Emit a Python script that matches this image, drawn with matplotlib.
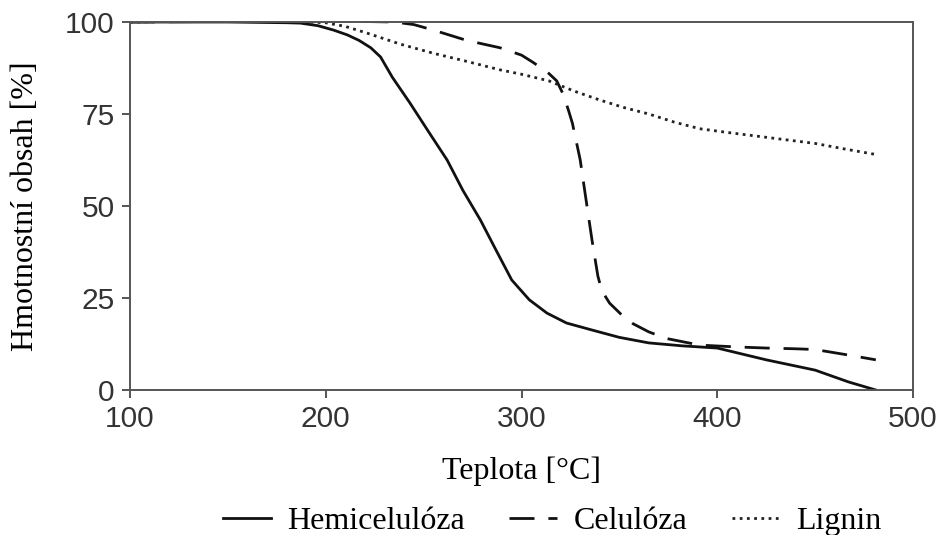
import matplotlib
matplotlib.use("Agg")
import matplotlib.pyplot as plt

# Data
hemi_x = [100, 150, 180, 187, 196, 204, 211, 217, 223, 228, 234, 243, 253, 262, 270, 279, 287, 295, 304, 313, 323, 336, 350, 365, 382, 400, 425, 450, 467, 481]
hemi_y = [100, 100, 99.8, 99.7, 99, 97.8, 96.5, 95, 93, 90.5, 85, 78, 69.8, 62.5, 54.3, 46.2, 38, 29.9, 24.5, 20.9, 18.2, 16.3, 14.3, 12.8, 12, 11.4, 8.2, 5.4, 2.2, 0]

cel_x = [100, 200, 235, 245, 255, 272, 289, 300, 306, 314, 318, 321, 324, 326, 328, 330, 333, 336, 339, 341, 345, 351, 357, 365, 374, 391, 410, 425, 440, 450, 467, 481]
cel_y = [100, 100.3, 100, 99.3, 97.8, 95, 93, 91, 89, 86, 84, 80.7, 76, 72.5, 67.5, 62.5, 51.6, 40.8, 31, 27, 23.6, 20.5, 18, 15.8, 14, 12.2, 11.7, 11.4, 11.2, 11, 9.5, 8.2]

lig_x = [100, 150, 180, 200, 210, 221, 238, 255, 272, 289, 300, 314, 327, 340, 352, 365, 378, 391, 405, 420, 435, 450, 465, 481]
lig_y = [100, 100.3, 100.2, 99.8, 98.8, 97, 94, 91.5, 89.3, 87, 85.8, 84, 81.2, 78.8, 76.8, 75, 72.8, 71, 70, 69, 68, 67, 65.5, 64]

labels = ["Hemicelulóza", "Celulóza", "Lignin"]
xticks = [100, 200, 300, 400, 500]
yticks = [0, 25, 50, 75, 100]

fig = plt.figure(figsize=(9.41, 5.35), dpi=100)
ax = fig.add_axes([130/941, 1-390/535, (913-130)/941, (390-22)/535])

lw = 2.0
h1, = ax.plot(hemi_x, hemi_y, color="#111111", lw=lw, ls="-")
h2, = ax.plot(cel_x, cel_y, color="#111111", lw=lw, ls=(0, (9, 5)))
h3, = ax.plot(lig_x, lig_y, color="#222222", lw=lw, ls=(0, (1, 1.6)))

ax.set_xlim(100, 500)
ax.set_ylim(0, 100)
ax.set_xticks(xticks)
ax.set_yticks(yticks)
for s in ax.spines.values():
    s.set_color("#555555")
    s.set_linewidth(1.4)
ax.tick_params(direction="out", length=6, width=1.4, color="#555555",
               labelsize=21.5, labelcolor="#333333", pad=5)
for t in ax.get_xticklabels() + ax.get_yticklabels():
    t.set_family("Liberation Sans")

serif = "Liberation Serif"
ax.set_xlabel("Teplota [°C]", family=serif, fontsize=23, labelpad=17)
ax.set_ylabel("Hmotnostní obsah [%]", family=serif, fontsize=23, labelpad=18)

fig.legend([h1, h2, h3], labels, loc="center", bbox_to_anchor=(552/941, 1-521/535),
           ncol=3, frameon=False, prop={"family": serif, "size": 23},
           handlelength=1.5, handletextpad=0.5, columnspacing=1.4)

fig.savefig("out.png", dpi=100)
